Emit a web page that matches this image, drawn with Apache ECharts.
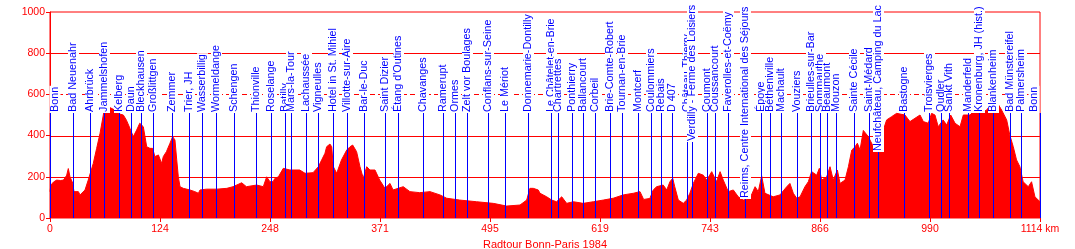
<!DOCTYPE html>
<html><head><meta charset="utf-8">
<script src="https://cdn.jsdelivr.net/npm/echarts@6/dist/echarts.min.js"></script>
<style>html,body{margin:0;padding:0;background:#fff}#c{width:1075px;height:249px}</style>
</head><body><div id="c"></div>
<script>
// ---- data ----
const profileKm = [0,1,4,7.5,12,15,17,18.8,20.6,22.5,25.5,27,31.9,33.8,39.4,43,45,48.7,52.5,56.3,60,63,65.6,67.5,73,75,78,82.5,86,90,93.7,95.6,97.5,101,103,105,108.8,112.5,115.5,118,122,125.6,127.5,131,135,138,140.6,142.6,144.4,146.3,150,157.5,163,167,168.8,176,187.6,199,206,215.7,221,232.6,240,243.8,247.5,251,253,257,262.5,270,281,287,296,302,305.7,309.4,311.3,315,317,318.8,322.6,328,333.9,337.6,340.6,345,348.8,352.5,356.4,360,365.7,371,376.9,382.6,386,397.5,405,416,427.6,438.8,446.4,461,480,498.8,513.9,528.9,536.4,540,543.8,549.4,551.4,558.9,564.5,570,575.8,581.4,588.9,600,611.4,622.6,633.8,645,656.4,663.9,668,675,678.8,682.6,690,694,697.6,700.7,703,707,712.6,716.4,720,723.9,729.5,735.1,739,744.6,750,754,757.6,763.2,768.9,774.5,780,787.7,793.4,797,800.8,804.5,813.8,821.4,829,832.6,836.4,840.2,844,849.5,853.3,857,862.7,865.7,868.3,874,877.7,881.4,886,889,894.6,898.4,902.2,906,908.5,911.5,915.2,920.8,926.5,932,937.7,941.4,947,952.7,962,967.7,973.3,979,982.7,988.3,992,995.8,999.5,1005,1009,1013.5,1018.4,1024,1027.7,1035.2,1040.8,1046.4,1054,1059.6,1065.2,1070.8,1076.5,1080,1083.9,1087.6,1091.4,1095,1100.8,1104.5,1108.3,1114];
const profileElev = [128,160,175,184,182,184,195,208,240,200,170,128,128,112,136,184,176,265,338,411,500,575,540,543,524,520,505,500,475,435,395,387,427,460,468,443,346,338,338,298,306,265,298,322,363,395,379,282,200,152,144,136,128,120,136,140,140,144,152,171,152,160,152,200,176,176,192,200,241,233,233,217,220,249,282,314,346,359,346,249,217,282,330,346,354,322,249,193,249,233,233,184,144,168,136,152,128,123,128,112,96,87,79,71,58,63,87,144,144,136,120,103,87,79,103,71,79,71,79,87,96,112,120,128,90,95,136,152,160,136,176,193,152,87,71,87,120,168,217,208,184,225,176,225,184,128,136,103,87,96,152,128,205,120,103,112,152,168,120,96,103,152,176,225,208,241,184,200,249,184,233,168,184,249,330,346,363,330,425,395,346,314,427,476,492,508,500,468,484,500,468,460,508,500,443,476,451,500,460,443,500,500,524,508,524,557,565,524,476,403,346,282,249,176,152,176,103,79];
const placeNames = ['Bonn','Bad Neuenahr','Ahrbrück','Jammelshofen','Kelberg','Daun','Bleckhausen','Großlittgen','Zemmer','Trier, JH','Wasserbillig','Wormeldange','Schengen','Thionville','Roselange','Batilly','Mars-la-Tour','Lachaussée','Vigneulles','Hotel in St. Mihiel','Villotte-sur-Aire','Bar-le-Duc','Saint Dizier','Étang d\'Outines','Chavanges','Ramerupt','Ormes','Zelt vor Boulages','Conflans-sur-Seine','Le Mériot','Donnemarie-Dontilly','Le Châtelet-en-Brie','Chartrettes','Ponthierry','Ballancourt','Corbeil','Brie-Comte-Robert','Tournan-en-Brie','Montcerf','Coulommiers','Rebais','D 407','Château-Thierry','Verdilly - Ferme des Loisiers','Coumont','Coussancourt','Faverolles-et-Coëmy','Reims, Centre International des Séjours','Époye','Bétheniville','Machault','Vouziers','Brieulles-sur-Bar','Sommauthe','Beaumont','Mouzon','Sainte Cécile','Saint-Médard','Neufchâteau, Camping du Lac','Bastogne','Troisvierges','Oudler','Sankt Vith','Manderfeld','Kronenburg, JH (hist.)','Blankenheim','Bad Münstereifel','Palmersheim','Bonn'];
const placeKm = [0,26.2,45.4,60.4,77.6,91.5,102.8,116.3,136.9,156.8,171.4,187.2,207.4,232.2,249.0,264.1,271.5,287.7,302.0,318.8,334.6,353.7,377.3,392.0,419.4,442.6,456.1,469.6,492.5,512.3,538.2,563.7,572.0,587.7,600.1,613.6,630.5,644.0,662.0,676.6,687.9,699.5,717.1,722.8,739.6,748.6,763.2,782.4,800.4,810.5,822.9,840.2,856.7,866.4,874.6,884.8,905.0,921.9,931.7,961.3,989.4,1002.2,1011.9,1032.6,1045.0,1061.4,1080.6,1092.9,1114];
const xTickLabels = ['0','124','248','371','495','619','743','866','990','1114 km'];
const yTickLabels = ['0','200','400','600','800','1000'];
const gridValues = [200, 400, 600, 800];
const chartTitle = 'Radtour Bonn-Paris 1984';
const totalKm = 1114;

// ---- styling / layout ----
const RED = '#ff0000', BLUE = '#0000ff';
const FONT = '"Liberation Sans", Arial, sans-serif';
const LABEL_LEVEL = 510;           // elevation where label column starts
const labelDrop = {'Verdilly - Ferme des Loisiers': 29, 'Neufchâteau, Camping du Lac': 39, 'Reims, Centre International des Séjours': 86};
const dashedGrid = 600;

const chart = echarts.init(document.getElementById('c'), null, {renderer: 'canvas'});
const xInterval = totalKm / (xTickLabels.length - 1);
chart.setOption({
  animation: false,
  grid: {left: 50, right: 35, top: 12, bottom: 31, containLabel: false, outerBoundsMode: 'none',
         show: true, borderColor: RED, borderWidth: 1, backgroundColor: 'transparent'},
  xAxis: {
    type: 'value', min: 0, max: totalKm, interval: xInterval,
    name: chartTitle, nameLocation: 'middle', nameGap: 17,
    nameTextStyle: {color: RED, fontFamily: FONT, fontSize: 11},
    axisLine: {show: false},
    axisTick: {show: true, length: 4, lineStyle: {color: RED}},
    axisLabel: {color: RED, fontFamily: FONT, fontSize: 10.5, margin: 6,
      formatter: v => xTickLabels[Math.round(v / xInterval)]},
    splitLine: {show: false}
  },
  yAxis: {
    type: 'value', min: 0, max: 1000, interval: 200,
    axisLine: {show: true, lineStyle: {color: RED}},
    axisTick: {show: true, length: 4, lineStyle: {color: RED}},
    axisLabel: {color: RED, fontFamily: FONT, fontSize: 10.5, margin: 5,
      formatter: v => yTickLabels[Math.round(v / 200)]},
    splitLine: {show: false}
  },
  series: [
    {
      type: 'custom', z: 1, silent: true,
      data: gridValues.map(v => [0, v]),
      renderItem: (params, api) => {
        const v = api.value(1);
        const a = api.coord([0, v]), b = api.coord([totalKm, v]);
        const y = Math.round(a[1]) + 0.5;
        return {type: 'line', shape: {x1: a[0], y1: y, x2: b[0], y2: y},
          style: {stroke: RED, lineWidth: 1, lineDash: v === dashedGrid ? [5, 3] : null}};
      }
    },
    {
      type: 'line', data: profileKm.map((k, i) => [k, profileElev[i]]),
      symbol: 'none', lineStyle: {color: RED, width: 1}, areaStyle: {color: RED, opacity: 1},
      itemStyle: {color: RED},
      z: 2
    },
    {
      type: 'custom', z: 5, clip: false,
      data: placeKm.map((k, i) => [k, i]),
      renderItem: (params, api) => {
        const km = api.value(0), idx = api.value(1);
        const name = placeNames[idx];
        const p0 = api.coord([km, 0]);
        const pL = api.coord([km, LABEL_LEVEL]);
        const x = Math.round(p0[0]) + 0.5;
        const top = Math.round(pL[1]) + (labelDrop[name] || 0);
        const left = api.coord([0, 0])[0], right = api.coord([totalKm, 0])[0];
        let tx = x;
        if (tx < left + 5) tx = left + 5;
        if (tx > right - 6) tx = right - 6;
        return {
          type: 'group',
          children: [
            {type: 'line', shape: {x1: x, y1: top, x2: x, y2: Math.round(p0[1])}, style: {stroke: BLUE, lineWidth: 1}},
            {type: 'text', x: tx, y: top, rotation: Math.PI / 2,
             style: {text: name, fill: BLUE, font: '10.8px ' + FONT, align: 'left', verticalAlign: 'middle', backgroundColor: '#ffffff', padding: [0, 1, 0, 1]}}
          ]
        };
      }
    }
  ]
});
</script>
</body></html>
